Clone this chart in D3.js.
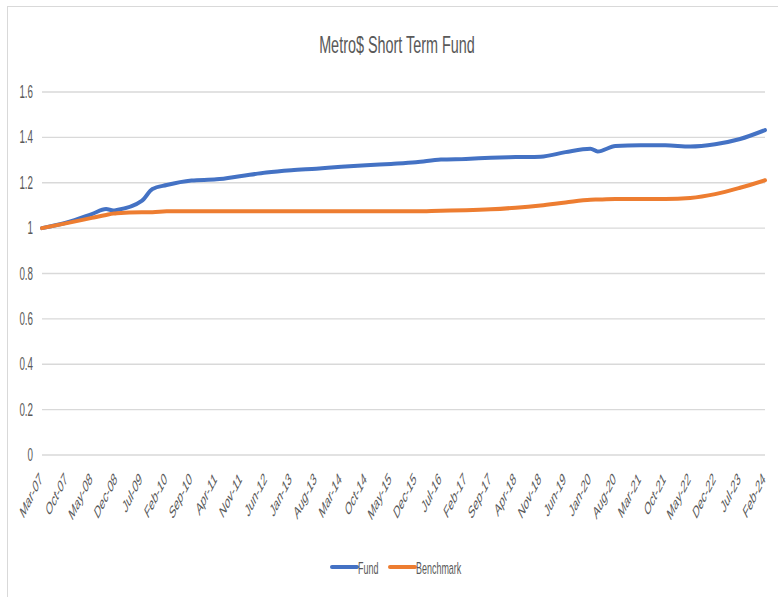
<!DOCTYPE html>
<html>
<head>
<meta charset="utf-8">
<script src="https://cdn.jsdelivr.net/npm/d3@7"></script>
<style>
  body { margin: 0; background: #fff; }
  text { font-family: "Liberation Sans", Arial, sans-serif; fill: #595959; }
</style>
</head>
<body>
<div id="chart"></div>
<script>
const tickLabels = ["Mar-07", "Oct-07", "May-08", "Dec-08", "Jul-09", "Feb-10", "Sep-10", "Apr-11", "Nov-11", "Jun-12",
    "Jan-13", "Aug-13", "Mar-14", "Oct-14", "May-15", "Dec-15", "Jul-16", "Feb-17", "Sep-17", "Apr-18",
    "Nov-18", "Jun-19", "Jan-20", "Aug-20", "Mar-21", "Oct-21", "May-22", "Dec-22", "Jul-23", "Feb-24"]

const sampleMonths = ["Mar-07", "Oct-07", "May-08", "Sep-08", "Nov-08", "Dec-08", "Jul-09", "Oct-09", "Feb-10", "Sep-10",
    "Apr-11", "Nov-11", "Jun-12", "Jan-13", "Aug-13", "Mar-14", "Oct-14", "May-15", "Dec-15", "Jul-16",
    "Feb-17", "Sep-17", "Apr-18", "Nov-18", "Jun-19", "Jan-20", "Mar-20", "Aug-20", "Mar-21", "Oct-21",
    "May-22", "Dec-22", "Jul-23", "Feb-24"]

const fundValues = [1.00, 1.025, 1.062, 1.084, 1.078, 1.08, 1.12, 1.172, 1.19, 1.21,
    1.215, 1.23, 1.245, 1.255, 1.262, 1.27, 1.277, 1.283, 1.29, 1.302,
    1.305, 1.31, 1.313, 1.315, 1.335, 1.35, 1.338, 1.362, 1.365, 1.365,
    1.36, 1.37, 1.393, 1.432]

const benchmarkValues = [1.00, 1.022, 1.045, 1.058, 1.064, 1.066, 1.07, 1.07, 1.074, 1.074,
    1.074, 1.074, 1.074, 1.074, 1.074, 1.074, 1.074, 1.074, 1.074, 1.077,
    1.079, 1.083, 1.09, 1.1, 1.113, 1.125, 1.126, 1.128, 1.128, 1.128,
    1.133, 1.15, 1.178, 1.211]

const yTicks = [0, 0.2, 0.4, 0.6, 0.8, 1, 1.2, 1.4, 1.6]

const series = [
    { name: "Fund", values: fundValues, color: "#4472C4" },
    { name: "Benchmark", values: benchmarkValues, color: "#ED7D31" }
]

const W = 778, H = 597, SX = 0.56
const parseMonth = d3.timeParse("%b-%y")
const monthIndex = label => {
    const d = parseMonth(label)
    return (d.getFullYear() - 2007) * 12 + d.getMonth() - 2
}

const svg = d3.select("#chart").append("svg").attr("width", W).attr("height", H)

// chart area border (left / top edges visible in the crop)
svg.append("rect").attr("x", 7.5).attr("y", 6.5).attr("width", W + 10).attr("height", H + 10)
    .attr("fill", "none").attr("stroke", "#d9d9d9")

const x = d3.scaleLinear().domain([0, monthIndex("Feb-24")]).range([42, 765])
const y = d3.scaleLinear().domain([0, 1.6]).range([455, 92])

svg.append("text").attr("transform", `translate(397,53) scale(0.6,1)`)
    .attr("text-anchor", "middle").style("font-size", "24px").text("Metro$ Short Term Fund")

const grid = svg.append("g")
grid.selectAll("line").data(yTicks).enter().append("line")
    .attr("x1", x.range()[0]).attr("x2", x.range()[1])
    .attr("y1", d => y(d)).attr("y2", d => y(d))
    .attr("stroke", "#d9d9d9").attr("stroke-width", 1.3)

svg.append("g").selectAll("text").data(yTicks).enter().append("text")
    .attr("transform", d => `translate(33,${y(d) + 6}) scale(${SX},1)`)
    .attr("text-anchor", "end").style("font-size", "17.5px").text(d => d)

svg.append("g").selectAll("text").data(tickLabels).enter().append("text")
    .attr("transform", d => `translate(${x(monthIndex(d)) + 1},${480}) scale(0.5,1) rotate(-45)`)
    .attr("text-anchor", "end").style("font-size", "17.5px").text(d => d)

const line = d3.line()
    .x((d, i) => x(monthIndex(sampleMonths[i])))
    .y(d => y(d))
    .curve(d3.curveMonotoneX)

svg.append("g").selectAll("path").data(series).enter().append("path")
    .attr("fill", "none").attr("stroke", d => d.color).attr("stroke-width", 4)
    .attr("stroke-linejoin", "round").attr("stroke-linecap", "round")
    .attr("d", d => line(d.values))

const legend = svg.append("g").selectAll("g").data(series).enter().append("g")
    .attr("transform", (d, i) => `translate(${[332, 390][i]},567)`)
legend.append("line").attr("x1", 0).attr("x2", 25).attr("stroke", d => d.color).attr("stroke-width", 4)
    .attr("stroke-linecap", "round")
legend.append("text").attr("transform", `translate(26,7) scale(${SX},1)`)
    .style("font-size", "16px").text(d => d.name)
</script>
</body>
</html>
